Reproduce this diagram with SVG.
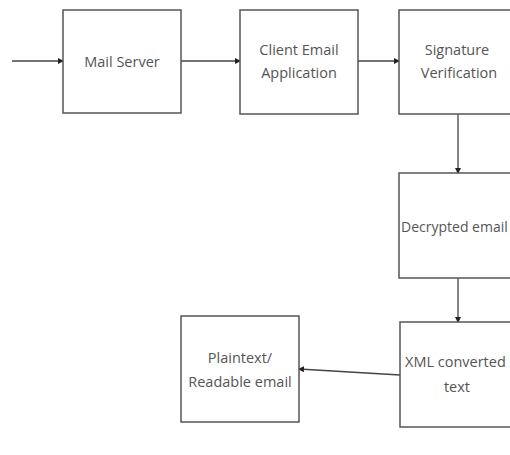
<svg xmlns="http://www.w3.org/2000/svg" width="510" height="455" viewBox="0 0 510 455">
<style>
.box{fill:#fff;stroke:#555;stroke-width:1.5}
.lbl{font-family:"Open Sans","Liberation Sans",sans-serif;font-size:14.5px;fill:#555}
.c{text-anchor:middle}
.ln{stroke:#444;stroke-width:1.3;fill:none;marker-end:url(#ah)}
</style>
<defs>
<marker id="ah" markerWidth="6" markerHeight="6" refX="5" refY="3" orient="auto" markerUnits="userSpaceOnUse">
<path d="M0,0 L6,3 L0,6 Z" fill="#222"/>
</marker>
</defs>
<rect width="510" height="455" fill="#fff"/>
<g id="connectors">
<line class="ln" x1="12" y1="61" x2="63" y2="61"/>
<line class="ln" x1="181" y1="61" x2="240" y2="61"/>
<line class="ln" x1="358" y1="61" x2="399" y2="61"/>
<line class="ln" x1="458" y1="114" x2="458" y2="173"/>
<line class="ln" x1="458" y1="278" x2="458" y2="322"/>
<line class="ln" x1="400" y1="375" x2="299" y2="369"/>
</g>
<g id="mail-server">
<rect class="box" x="63" y="10" width="118" height="103"/>
<text class="lbl c" x="122" y="67">Mail Server</text>
</g>
<g id="client-email">
<rect class="box" x="240" y="10" width="118" height="104"/>
<text class="lbl c" x="299" y="55">Client Email</text>
<text class="lbl c" x="299" y="78">Application</text>
</g>
<g id="signature">
<rect class="box" x="399" y="10" width="130" height="104"/>
<text class="lbl c" x="457" y="55">Signature</text>
<text class="lbl c" x="459" y="78">Verification</text>
</g>
<g id="decrypted">
<rect class="box" x="399" y="173" width="130" height="105"/>
<text class="lbl" x="401" y="232" style="font-size:14px">Decrypted email</text>
</g>
<g id="xml">
<rect class="box" x="400" y="322" width="130" height="105"/>
<text class="lbl" x="405" y="367">XML converted</text>
<text class="lbl c" x="457" y="392">text</text>
</g>
<g id="plaintext">
<rect class="box" x="181" y="316" width="118" height="106"/>
<text class="lbl c" x="240" y="363">Plaintext/</text>
<text class="lbl c" x="240" y="387">Readable email</text>
</g>
</svg>
